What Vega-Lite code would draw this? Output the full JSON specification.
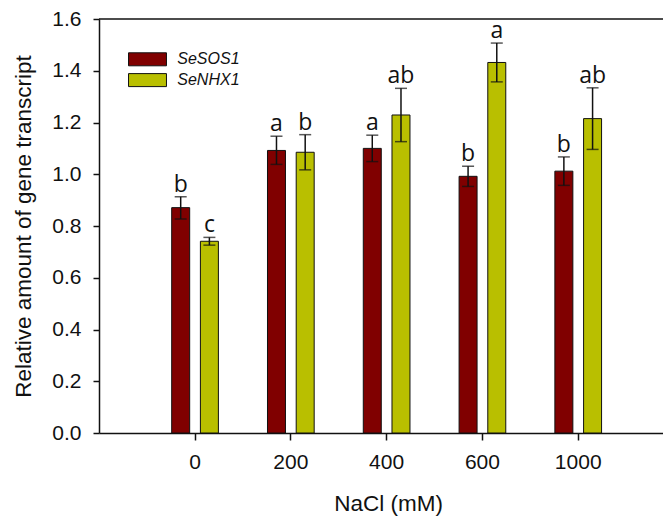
{
  "$schema": "https://vega.github.io/schema/vega-lite/v6.json",
  "width": 564,
  "height": 414,
  "autosize": "none",
  "padding": {"left": 99, "top": 19, "right": 0, "bottom": 84},
  "config": {
    "view": {"stroke": null},
    "font": "Liberation Sans",
    "axis": {"domainColor": "#111", "tickColor": "#111", "labelColor": "#111", "titleColor": "#111", "domainWidth": 1.5, "tickWidth": 1.5, "grid": false}
  },
  "data": {
    "values": [
      {"nacl": "0", "gene": "SeSOS1", "mean": 0.871, "lo": 0.827, "hi": 0.913, "letter": "b"},
      {"nacl": "0", "gene": "SeNHX1", "mean": 0.741, "lo": 0.726, "hi": 0.756, "letter": "c"},
      {"nacl": "200", "gene": "SeSOS1", "mean": 1.092, "lo": 1.038, "hi": 1.147, "letter": "a"},
      {"nacl": "200", "gene": "SeNHX1", "mean": 1.085, "lo": 1.017, "hi": 1.153, "letter": "b"},
      {"nacl": "400", "gene": "SeSOS1", "mean": 1.1, "lo": 1.049, "hi": 1.151, "letter": "a"},
      {"nacl": "400", "gene": "SeNHX1", "mean": 1.229, "lo": 1.126, "hi": 1.332, "letter": "ab"},
      {"nacl": "600", "gene": "SeSOS1", "mean": 0.992, "lo": 0.953, "hi": 1.031, "letter": "b"},
      {"nacl": "600", "gene": "SeNHX1", "mean": 1.432, "lo": 1.357, "hi": 1.507, "letter": "a"},
      {"nacl": "1000", "gene": "SeSOS1", "mean": 1.012, "lo": 0.957, "hi": 1.067, "letter": "b"},
      {"nacl": "1000", "gene": "SeNHX1", "mean": 1.215, "lo": 1.096, "hi": 1.334, "letter": "ab"}
    ]
  },
  "layer": [
    {
      "data": {"values": [{"top": 1.6}]},
      "mark": {"type": "rule", "color": "#111", "strokeWidth": 1.5},
      "encoding": {"y": {"field": "top", "type": "quantitative", "scale": {"domain": [0, 1.6], "nice": false}}}
    },
    {
      "mark": {"type": "bar", "stroke": "#111", "strokeWidth": 1},
      "encoding": {
        "x": {
          "field": "nacl", "type": "nominal", "sort": ["0", "200", "400", "600", "1000"],
          "scale": {"paddingInner": 0.5125, "paddingOuter": 0.7, "align": 0.542},
          "axis": {"title": "NaCl (mM)", "labelAngle": 0, "labelFontSize": 21, "tickSize": 7, "labelPadding": 11, "titleFontSize": 22.5, "titleFontWeight": "normal", "titleX": 289, "titleY": 70, "titleBaseline": "middle", "titleAnchor": "middle"}
        },
        "xOffset": {"field": "gene", "type": "nominal", "sort": ["SeSOS1", "SeNHX1"], "scale": {"paddingInner": 0.373, "paddingOuter": 0}},
        "y": {
          "field": "mean", "type": "quantitative",
          "scale": {"domain": [0, 1.6], "nice": false},
          "axis": {"title": "Relative amount of gene transcript", "values": [0, 0.2, 0.4, 0.6, 0.8, 1.0, 1.2, 1.4, 1.6], "format": ".1f", "labelFontSize": 21, "tickSize": 6, "labelPadding": 12, "titleFontSize": 22.5, "titleFontWeight": "normal", "titlePadding": 16}
        },
        "color": {
          "field": "gene", "type": "nominal",
          "scale": {"domain": ["SeSOS1", "SeNHX1"], "range": ["#800000", "#b9bf00"]},
          "legend": {
            "title": null, "orient": "none", "legendX": 40.5, "legendY": 32.3, "padding": 0,
            "symbolType": "M-2.92,-1H2.92V1H-2.92Z", "symbolSize": 169, "symbolStrokeColor": "#111", "symbolStrokeWidth": 1,
            "labelFontStyle": "italic", "labelFontSize": 16, "labelOffset": 21.8, "rowPadding": 2.8, "labelColor": "#111"
          }
        }
      }
    },
    {
      "mark": {"type": "rule", "color": "#111", "strokeWidth": 1.5},
      "encoding": {
        "x": {"field": "nacl", "type": "nominal", "sort": ["0", "200", "400", "600", "1000"]},
        "xOffset": {"field": "gene", "type": "nominal", "sort": ["SeSOS1", "SeNHX1"]},
        "y": {"field": "lo", "type": "quantitative"},
        "y2": {"field": "hi"}
      }
    },
    {
      "mark": {"type": "tick", "color": "#111", "size": 12, "thickness": 1.5},
      "encoding": {
        "x": {"field": "nacl", "type": "nominal", "sort": ["0", "200", "400", "600", "1000"]},
        "xOffset": {"field": "gene", "type": "nominal", "sort": ["SeSOS1", "SeNHX1"]},
        "y": {"field": "hi", "type": "quantitative"}
      }
    },
    {
      "mark": {"type": "tick", "color": "#111", "size": 12, "thickness": 1.5},
      "encoding": {
        "x": {"field": "nacl", "type": "nominal", "sort": ["0", "200", "400", "600", "1000"]},
        "xOffset": {"field": "gene", "type": "nominal", "sort": ["SeSOS1", "SeNHX1"]},
        "y": {"field": "lo", "type": "quantitative"}
      }
    },
    {
      "mark": {"type": "text", "font": "Open Sans", "fontSize": 23, "baseline": "alphabetic", "dy": -5, "color": "#111"},
      "encoding": {
        "x": {"field": "nacl", "type": "nominal", "sort": ["0", "200", "400", "600", "1000"]},
        "xOffset": {"field": "gene", "type": "nominal", "sort": ["SeSOS1", "SeNHX1"]},
        "y": {"field": "hi", "type": "quantitative"},
        "text": {"field": "letter"}
      }
    }
  ],
  "resolve": {"scale": {"y": "shared"}}
}
